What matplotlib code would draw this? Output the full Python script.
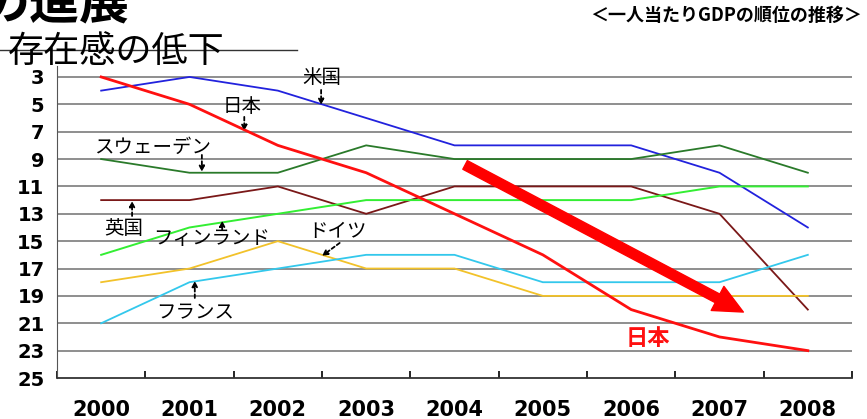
import matplotlib
matplotlib.use("Agg")
import matplotlib.pyplot as plt
from matplotlib.lines import Line2D

plt.rcParams['font.family'] = ['Noto Sans CJK JP', 'DejaVu Sans']

years = ["2000", "2001", "2002", "2003", "2004", "2005", "2006", "2007", "2008"]
rank_ticks = [3, 5, 7, 9, 11, 13, 15, 17, 19, 21, 23, 25]

japan = [3, 5, 8, 10, 13, 16, 20, 22, 23]
usa = [4, 3, 4, 6, 8, 8, 8, 10, 14]
sweden = [9, 10, 10, 8, 9, 9, 9, 8, 10]
uk = [12, 12, 11, 13, 11, 11, 11, 13, 20]
finland = [16, 14, 13, 12, 12, 12, 12, 11, 11]
germany = [18, 17, 15, 17, 17, 19, 19, 19, 19]
france = [21, 18, 17, 16, 16, 18, 18, 18, 16]

fig = plt.figure(figsize=(8.67, 4.19), dpi=100)
ax = fig.add_axes([57/867, 1 - 378/419, 795/867, (378 - 66)/419])

x = range(len(years))
ax.plot(x, usa, color="#2222dd", lw=1.3, zorder=3)
ax.plot(x, sweden, color="#2a7a2a", lw=1.3, zorder=3)
ax.plot(x, uk, color="#7a1818", lw=1.3, zorder=3)
ax.plot(x, finland, color="#33ee33", lw=1.4, zorder=3)
ax.plot(x, germany, color="#f2c22a", lw=1.3, zorder=3)
ax.plot(x, france, color="#33c8ec", lw=1.3, zorder=3)
ax.plot(x, japan, color="#ff1010", lw=2.0, zorder=4)

ax.set_xlim(-0.5, 8.5)
ax.set_ylim(25, 2.2)
ax.set_yticks(rank_ticks)
ax.set_yticklabels([str(v) for v in rank_ticks])
ax.set_xticks(list(x))
ax.set_xticklabels(years)
ax.set_xticks([i - 0.5 for i in range(len(years) + 1)], minor=True)
ax.tick_params(axis='x', which='major', length=0, pad=16)
ax.tick_params(axis='x', which='minor', direction='in', length=5, width=1.2)
ax.tick_params(axis='y', length=0, pad=9)
for lab in ax.get_xticklabels():
    lab.set_family('DejaVu Sans')
    lab.set_fontweight('bold')
    lab.set_fontsize(15)
for lab in ax.get_yticklabels():
    lab.set_family('DejaVu Sans')
    lab.set_fontweight('bold')
    lab.set_fontsize(14)

for v in rank_ticks[:-1]:
    ax.axhline(v, color="#707070", lw=1.1, zorder=1)

for s in ["top", "right"]:
    ax.spines[s].set_visible(False)
ax.spines["left"].set_color("#555555")
ax.spines["bottom"].set_color("#333333")
ax.spines["bottom"].set_linewidth(1.3)

# labels with dashed arrows
arr = dict(arrowstyle='-|>', linestyle=(0, (2, 1.5)), color='black', lw=1.3,
           mutation_scale=8, shrinkA=0, shrinkB=0)
notes = [
    ("米国", (2.50, 3.07), (2.49, 3.95), (2.49, 5.05)),
    ("日本", (1.60, 5.19), (1.62, 5.92), (1.62, 6.95)),
    ("スウェーデン", (0.58, 8.12), (1.14, 8.70), (1.14, 9.94)),
    ("英国", (0.26, 14.04), (0.35, 13.16), (0.35, 12.06)),
    ("フィンランド", (1.25, 14.77), (1.37, 14.18), (1.37, 13.5)),
    ("ドイツ", (2.67, 14.33), (2.70, 15.13), (2.50, 16.08)),
    ("フランス", (1.06, 20.25), (1.06, 19.15), (1.06, 17.9)),
]
for txt, pos, start, tip in notes:
    ax.text(pos[0], pos[1], txt, ha='center', va='center', fontsize=14,
            color='black', zorder=6)
    ax.annotate("", xy=tip, xytext=start, arrowprops=arr, zorder=6)

ax.text(6.19, 22.08, "日本", ha='center', va='center', fontsize=16,
        fontweight='bold', color='#ff1010', zorder=6)

ax.annotate("", xy=(7.27, 20.18), xytext=(4.12, 9.43),
            arrowprops=dict(arrowstyle='simple,head_length=1.5,head_width=1.4,tail_width=0.5',
                            color='#ff0000', mutation_scale=14, shrinkA=0, shrinkB=0),
            zorder=7)

# slide headings around the chart
fig.add_artist(Line2D([0, 297/867], [1 - 50/419, 1 - 50/419], color="#333333", lw=1))
fig.text(-20/867, 1 - 29/419, "の進展", fontsize=36, fontweight='bold',
         ha='left', va='bottom')
fig.text(8/867, 1 - 62/419, "存在感の低下", fontsize=26, ha='left', va='baseline')
fig.text(862/867, 1 - 15/419, "＜一人当たりGDPの順位の推移＞", fontsize=13,
         fontweight='bold', ha='right', va='center')

fig.savefig("out.png", dpi=100)
